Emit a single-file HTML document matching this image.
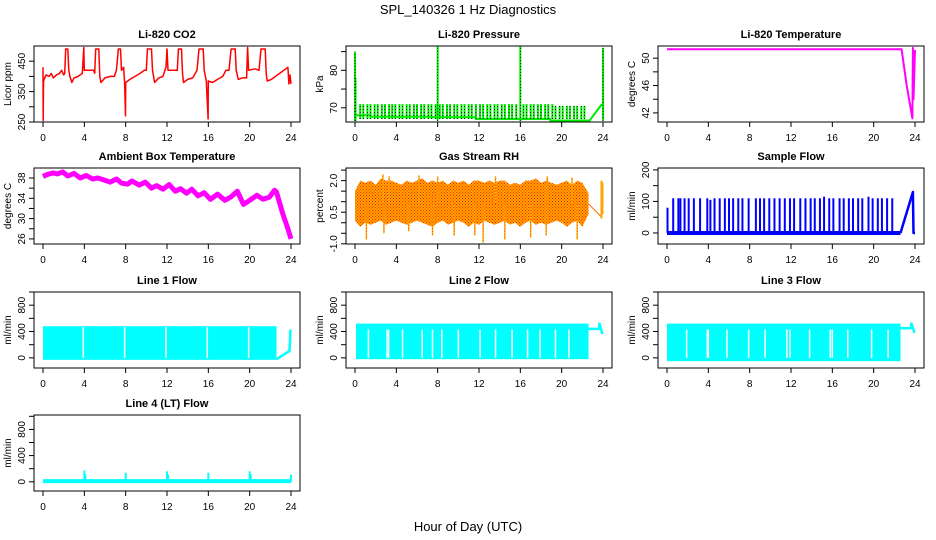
<!DOCTYPE html>
<html><head><meta charset="utf-8"><style>
html,body{margin:0;padding:0;background:#fff;}
svg{display:block;font-family:"Liberation Sans",sans-serif;}
</style></head><body>
<svg id="chart" width="936" height="540" viewBox="0 0 936 540">
<defs>
<pattern id="rhpat" width="3" height="3" patternUnits="userSpaceOnUse">
<rect width="3" height="3" fill="#ffa500"/><rect width="1" height="1" fill="#ff2000"/><rect x="1.5" y="1.5" width="1" height="1" fill="#ff2000"/>
</pattern>
</defs>
<text x="468" y="14" text-anchor="middle" font-size="13">SPL_140326  1 Hz Diagnostics</text>
<text x="468" y="531" text-anchor="middle" font-size="13">Hour of Day (UTC)</text>
</svg>
<script>
// ---- data ----
const xTicks = [0,4,8,12,16,20,24];
const co2Hours = [0,0.02,0.05,0.1,0.3,0.6,0.8,1.0,1.3,1.6,1.8,2.0,2.1,2.2,2.4,2.5,2.6,2.8,3.0,3.4,3.8,3.95,4.0,4.5,4.9,5.0,5.1,5.4,5.5,5.6,6.0,6.5,6.9,7.1,7.3,7.5,7.6,7.8,7.9,7.98,8.0,8.4,8.9,9.4,9.8,10.0,10.1,10.5,10.6,10.8,11.2,11.6,11.9,12.0,12.1,12.8,13.0,13.1,13.4,13.5,13.6,14.0,14.5,14.9,15.1,15.5,15.6,15.8,15.98,16.0,16.4,16.9,17.4,17.7,18.0,18.2,18.6,18.7,18.9,19.3,19.7,19.8,19.9,20.5,20.9,21.1,21.5,21.6,21.7,22.1,23.7,23.8,23.9,24];
const co2Values = [430,255,380,390,405,400,410,395,405,410,420,405,410,490,490,420,400,380,395,400,410,495,420,420,420,410,490,490,400,380,395,400,400,420,490,490,420,430,380,270,380,390,400,410,420,420,490,490,420,380,395,400,430,490,420,420,420,490,490,410,380,390,395,420,490,490,420,385,260,385,380,390,400,420,420,490,490,420,390,395,395,495,420,425,420,490,490,410,385,390,430,375,405,375];
const co2Ticks = [250,300,350,400,450];
const co2Labels = [250,350,450];

const pressBaseHours = [0,1.5,1.5,7.5,7.5,11.7,11.7,18.9,18.9,22.7,23.9];
const pressBaseValues = [68,68,67.6,67.6,67.5,67.5,67,67,66.6,66.6,71];
const pressSpikeHours = [0.5,0.8,1.2,1.5,1.9,2.2,2.6,2.9,3.3,3.6,3.9,4.3,4.6,5.0,5.3,5.7,6.0,6.4,6.7,7.1,7.4,7.8,8.2,8.5,8.9,9.2,9.6,9.9,10.3,10.6,11.0,11.3,11.7,12.1,12.4,12.8,13.1,13.5,13.8,14.2,14.5,14.9,15.2,15.6,16.3,16.6,17.0,17.3,17.7,18.0,18.4,18.7,19.1,19.4,19.8,20.1,20.5,20.8,21.2,21.5,21.9,22.2];
const pressSpikeValues = [71,71,71,71,71,71,71,71,71,71,71,71,71,71,71,71,71,71,71,71,71,71,71,71,71,71,71,71,71,71,71,71,71,71,71,71,71,71,71,71,71,71,71,71,71,71,71,71,71,71,71,71,71,70.5,70.5,70.5,70.5,70.5,70.5,70.5,70.5,70.5];
const pressBigHours = [0,0.05,8,16,24];
const pressBigValues = [85,78,87,87,86];
const pressTicks = [70,75,80,85];
const pressLabels = [70,80];

const tempHours = [0,22.7,23.2,23.75,23.8,23.85,24];
const tempValues = [51.3,51.3,46,41.2,51.5,44,51.2];
const tempTicks = [42,44,46,48,50];
const tempLabels = [42,46,50];

const ambHours = [0,0.3,0.6,1,1.4,1.9,2.4,3,3.6,4.2,4.8,5.3,5.9,6.5,7.1,7.6,8.2,8.6,9.3,9.9,10.5,11,11.6,12.2,12.8,13.3,13.9,14.4,15,15.6,16.2,16.9,17.6,18.2,18.8,19.4,20,20.7,21.3,21.9,22.4,22.6,23.2,23.7,24];
const ambValues = [38.3,38.6,38.8,39,38.8,39.2,38.4,38.9,38.0,38.5,37.8,38.0,37.6,37.2,37.8,37.0,36.8,37.4,36.6,37.2,36.0,36.5,35.8,36.7,35.4,35.9,35.0,35.8,34.5,35.1,33.8,34.8,33.6,34.3,35.4,32.8,33.6,34.6,33.8,34.2,35.6,35.2,31,28,26];
const ambTicks = [26,28,30,32,34,36,38];
const ambLabels = [26,30,34,38];

const rhHours = [0,0.5,1,1.5,2,2.5,3,3.5,4,4.5,5,5.5,6,6.5,7,7.5,8,8.5,9,9.5,10,10.5,11,11.5,12,12.5,13,13.5,14,14.5,15,15.5,16,16.5,17,17.5,18,18.5,19,19.5,20,20.5,21,21.5,22,22.6];
const rhUpper = [1.5,2.0,1.9,2.0,1.8,2.1,2.0,2.0,1.9,1.8,2.0,1.9,2.0,2.1,1.9,2.0,1.9,2.0,1.8,2.0,1.9,2.0,1.8,2.0,2.0,1.9,2.0,1.9,2.0,2.0,1.8,1.9,1.8,2.0,2.0,2.1,1.9,2.0,1.9,1.8,1.9,2.0,1.8,2.0,1.9,1.4];
const rhLower = [0.1,-0.2,0,-0.1,0,0.1,-0.1,0,0.1,0,-0.1,0,0.1,0,-0.1,-0.2,0,0.1,-0.1,0,0.1,0,-0.2,0,-0.1,0.1,0,-0.1,0,0.1,-0.1,0,-0.2,0,0.1,-0.1,0,-0.1,0,0.1,0,-0.2,0,0.1,-0.2,0.4];
const rhSpikeHours = [1.1,2.8,5.2,7.5,9.6,11.6,12.4,14.5,17.0,18.5,21.5,2.7,3.3,6.2,8.0,13.6,18.6,21.0];
const rhSpikeValues = [-0.8,-0.5,-0.4,-0.6,-0.6,-0.6,-0.95,-0.8,-0.7,-0.6,-0.8,2.3,2.2,2.25,2.2,2.2,2.2,2.15];
const rhTailHours = [22.6,23.8];
const rhTailValues = [0.9,0.3];
const rhEndBar = [0.2,2.0];
const rhTicks = [-1,-0.5,0,0.5,1,1.5,2,2.5];
const rhLabels = ["-1.0","0.5","2.0"];
const rhLabelVals = [-1,0.5,2];

const sampSpikeHours = [0.05,0.6,1.1,1.3,1.7,2.1,2.6,3.2,3.9,4.2,4.6,5.1,5.6,6.0,6.4,6.9,7.3,7.9,8.6,9.0,9.4,9.9,10.4,10.9,11.4,11.9,12.3,12.9,13.4,13.9,14.3,14.8,15.2,15.7,16.1,16.7,17.1,17.6,18.0,18.5,18.9,19.5,19.9,20.4,20.8,21.3,21.8];
const sampSpikeValues = [80,110,110,110,110,110,110,110,110,105,110,110,110,110,110,110,110,110,110,110,110,110,110,110,110,110,110,110,110,110,110,110,115,110,110,110,110,110,110,110,110,115,110,110,110,110,110];
const sampTailHours = [22.6,23.8,23.85,24];
const sampTailValues = [0,130,0,0];
const sampTicks = [0,50,100,150,200];
const sampLabels = [0,100,200];

const flowTicks = [0,200,400,600,800,1000];
const flowLabels = [0,400,800];
const line1Block = [0,22.6,-30,480];
const line1GapHours = [3.9,7.9,11.9,15.9,19.9];
const line1TailHours = [22.6,23.8,23.85,23.95];
const line1TailValues = [-20,100,100,430];
const line2Block = [0.1,22.6,-20,520];
const line2GapHours = [1.3,3.1,3.25,4.6,6.5,7.5,8.4,10.0,12.1,13.6,15.2,16.7,17.9,19.4,20.7];
const line2TailHours = [22.6,23.6,23.65,23.95];
const line2TailValues = [440,440,520,360];
const line3Block = [0,22.6,-50,520];
const line3GapHours = [1.9,3.9,4.0,5.8,7.9,9.5,11.6,11.9,13.8,15.8,16.0,17.5,19.8,21.4];
const line3TailHours = [22.6,23.6,23.65,23.95];
const line3TailValues = [450,450,520,380];
const line4BaseHours = [0,24];
const line4BaseValues = [10,10];
const line4SpikeHours = [4,4.1,8,12,12.1,16,20,20.1,24];
const line4SpikeValues = [170,110,140,160,110,140,160,110,110];

// ---- layout ----
const NS = "http://www.w3.org/2000/svg";
const svg = document.getElementById('chart');
const colX0 = [43,355,667], colBox = [[34,300],[346,612],[658,924]];
const rowTop = [46,168,292,415], rowH = 76;
function mk(tag, attrs, parent){ const e=document.createElementNS(NS,tag); for(const k in attrs) e.setAttribute(k,attrs[k]); (parent||svg).appendChild(e); return e; }

function panel(name, col, row, ymin, ymax, title, ylab, ticks, labelVals, labelTxt){
  const g = mk('g',{});
  
  
  const bx0=colBox[col][0], bx1=colBox[col][1], by0=rowTop[row], by1=rowTop[row]+rowH;
  const sx = h => colX0[col] + h*(248/24);
  const sy = v => by1 - (v-ymin)/(ymax-ymin)*rowH;
  const clipId='clip'+col+row;
  const cp = mk('clipPath',{id:clipId},g); mk('rect',{x:bx0,y:by0,width:bx1-bx0,height:rowH},cp);
  const plot = mk('g',{'clip-path':'url(#'+clipId+')'},g);
  
  
  const box = mk('rect',{x:bx0,y:by0,width:bx1-bx0,height:rowH,fill:'none',stroke:'#000','stroke-width':1},g);
  
  
  const t = mk('text',{x:(bx0+bx1)/2,y:by0-8,'text-anchor':'middle','font-size':11,'font-weight':'bold'},g); t.textContent=title;
  
  
  const xa = mk('g',{},g);
  
  
  mk('line',{x1:sx(0),x2:sx(24),y1:by1,y2:by1,stroke:'#000'},xa);
  xTicks.forEach(h=>{ mk('line',{x1:sx(h),x2:sx(h),y1:by1,y2:by1+5,stroke:'#000'},xa);
    const tl=mk('text',{x:sx(h),y:by1+19,'text-anchor':'middle','font-size':10},xa); tl.textContent=h;});
  const ya = mk('g',{},g);
  
  
  mk('line',{x1:bx0,x2:bx0,y1:sy(ticks[0]),y2:sy(ticks[ticks.length-1]),stroke:'#000'},ya);
  ticks.forEach(v=>mk('line',{x1:bx0-5,x2:bx0,y1:sy(v),y2:sy(v),stroke:'#000'},ya));
  labelVals.forEach((v,i)=>{ const tx=bx0-9, ty=sy(v);
    const tl=mk('text',{x:tx,y:ty,'text-anchor':'middle','font-size':10,transform:'rotate(-90 '+tx+' '+ty+')'},ya); tl.textContent=labelTxt[i];});
  const yl = mk('text',{x:bx0-23,y:(by0+by1)/2,'text-anchor':'middle','font-size':10,transform:'rotate(-90 '+(bx0-23)+' '+((by0+by1)/2)+')'},g);
  yl.textContent=ylab;
  
  
  return {plot,sx,sy};
}
function poly(p, hs, vs, color, w, name){
  const pts = hs.map((h,i)=>p.sx(h).toFixed(1)+','+p.sy(vs[i]).toFixed(1)).join(' ');
  const e = mk('polyline',{points:pts,fill:'none',stroke:color,'stroke-width':w,'stroke-linejoin':'round'},p.plot);
  
  
  return e;
}
function vlines(p, hs, v0s, v1s, color, w, name, dash){
  hs.forEach((h,i)=>{
    const a={x1:p.sx(h),x2:p.sx(h),y1:p.sy(v0s[i]),y2:p.sy(v1s[i]),stroke:color,'stroke-width':w};
    if(dash) a['stroke-dasharray']=dash;
    const e=mk('line',a,p.plot);
    
    
  });
}
function rectH(p,h0,h1,v0,v1,color,name){
  const x0=p.sx(h0),x1=p.sx(h1),y0=p.sy(v1),y1=p.sy(v0);
  const e=mk('rect',{x:x0,y:y0,width:x1-x0,height:y1-y0,fill:color},p.plot);
  
  
}

let p = panel('co2',0,0,250,500,'Li-820 CO2','Licor ppm',co2Ticks,co2Labels,co2Labels);
poly(p,co2Hours,co2Values,'#ff0000',1.5,'co2-line');

p = panel('pressure',1,0,66.2,86.5,'Li-820 Pressure','kPa',pressTicks,pressLabels,pressLabels);
poly(p,pressBaseHours,pressBaseValues,'#00ee00',2,'pressure-line');
vlines(p,pressSpikeHours,pressSpikeHours.map(()=>67),pressSpikeValues,'#00ee00',2,'pressure-spike');
vlines(p,pressSpikeHours,pressSpikeHours.map(()=>67),pressSpikeValues,'#000',0.8,'pressure-spike-dots','1,2');
vlines(p,pressBigHours,pressBigHours.map(()=>66.5),pressBigValues,'#00ee00',2,'pressure-big-spike');
vlines(p,pressBigHours,pressBigHours.map(()=>66.5),pressBigValues,'#000',0.8,'pressure-big-spike-dots','1,2');

p = panel('licor-temp',2,0,40.67,51.78,'Li-820 Temperature','degrees C',tempTicks,tempLabels,tempLabels);
poly(p,tempHours,tempValues,'#ff00ff',2,'licor-temp-line');

p = panel('ambient-temp',0,1,25,39.97,'Ambient Box Temperature','degrees C',ambTicks,ambLabels,ambLabels);
poly(p,ambHours,ambValues,'#ff00ff',5,'ambient-temp-line');

p = panel('rh',1,1,-1.01,2.6,'Gas Stream RH','percent',rhTicks,rhLabelVals,rhLabels);
{
  const up = rhHours.map((h,i)=>p.sx(h).toFixed(1)+','+p.sy(rhUpper[i]).toFixed(1));
  const lo = rhHours.slice().reverse().map((h,j)=>{const i=rhHours.length-1-j; return p.sx(h).toFixed(1)+','+p.sy(rhLower[i]).toFixed(1);});
  const e=mk('polygon',{points:up.concat(lo).join(' '),fill:'url(#rhpat)'},p.plot);
  
  
}
vlines(p,rhSpikeHours,rhSpikeHours.map(()=>0.9),rhSpikeValues,'#ffb000',1.5,'rh-spike');
vlines(p,rhSpikeHours,rhSpikeHours.map(()=>0.9),rhSpikeValues,'#ff2000',0.8,'rh-spike-dots','1,2');
poly(p,rhTailHours,rhTailValues,'#ff6600',1,'rh-tail');
vlines(p,[23.85,23.95],[rhEndBar[0],rhEndBar[0]+0.2],[rhEndBar[1],rhEndBar[1]-0.1],'#ffa500',2,'rh-end-bar');

p = panel('sample-flow',2,1,-35,206,'Sample Flow','ml/min',sampTicks,sampLabels,sampLabels);
poly(p,[0,22.6],[0,0],'#0000ff',4,'sample-flow-baseline');
vlines(p,sampSpikeHours,sampSpikeHours.map(()=>0),sampSpikeValues,'#0000ff',2,'sample-flow-spike');
poly(p,sampTailHours,sampTailValues,'#0000ff',2.5,'sample-flow-tail');

function flowPanel(name,col,row,title,block,gaps,tailH,tailV,gapTop){
  const ymin=row===2?-154:-141, ymax=row===2?1000:1020;
  const pp = panel(name,col,row,ymin,ymax,title,'ml/min',flowTicks,flowLabels,flowLabels);
  rectH(pp,block[0],block[1],block[2],block[3],'#00ffff',name+'-block');
  vlines(pp,gaps,gaps.map(()=>0),gaps.map(()=>gapTop),'#ffffff',1.5,name+'-gap');
  poly(pp,tailH,tailV,'#00ffff',2.5,name+'-tail');
  return pp;
}
flowPanel('line1-flow',0,2,'Line 1 Flow',line1Block,line1GapHours,line1TailHours,line1TailValues,470);
flowPanel('line2-flow',1,2,'Line 2 Flow',line2Block,line2GapHours,line2TailHours,line2TailValues,430);
flowPanel('line3-flow',2,2,'Line 3 Flow',line3Block,line3GapHours,line3TailHours,line3TailValues,430);

p = panel('line4-flow',0,3,-141,1020,'Line 4 (LT) Flow','ml/min',flowTicks,flowLabels,flowLabels);
poly(p,line4BaseHours,line4BaseValues,'#00ffff',4,'line4-flow-baseline');
vlines(p,line4SpikeHours,line4SpikeHours.map(()=>0),line4SpikeValues,'#00ffff',2,'line4-flow-spike');
</script>
</body></html>
